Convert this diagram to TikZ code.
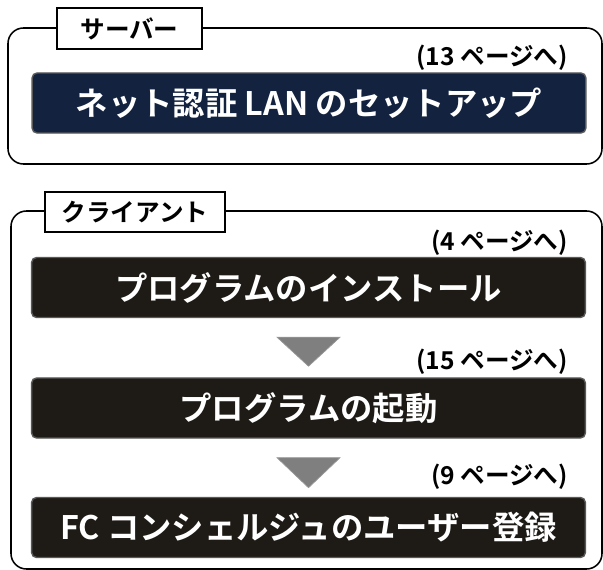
\documentclass[tikz,border=0pt]{standalone}
\usepackage{fontspec}
\setmainfont{Noto Sans CJK JP}[BoldFont={Noto Sans CJK JP Bold}]
\usetikzlibrary{positioning}
\definecolor{navy}{HTML}{13233F}
\definecolor{ink}{HTML}{1E1A15}
\definecolor{arrowgray}{HTML}{7F7F7F}
\tikzset{
	frame/.style={line width=1.1pt, rounded corners=11pt},
	tag/.style={draw, line width=1.1pt, fill=white, inner sep=0pt,
		font=\bfseries\fontsize{17.5}{17.5}\selectfont},
	title/.style={draw=black!65, line width=1pt, rounded corners=3.5pt, text=white,
		inner sep=0pt, minimum width=13.84cm, minimum height=1.5cm,
		font=\bfseries\fontsize{23}{23}\selectfont},
	page/.style={anchor=east, inner sep=0pt, font=\bfseries\fontsize{17.5}{17.5}\selectfont},
	down/.style={fill=arrowgray, draw=black!40, line width=0.5pt}
	}

\begin{document}
\begin{tikzpicture}[x=0.025cm, y=-0.025cm]

	\useasboundingbox (0,0) rectangle (603,570);

	% server frame
	\draw[frame] (8,28) rectangle (602,164);
	\node[tag, minimum width=3.625cm, minimum height=1.025cm] (server) at (129.5,28.5) {サーバー};
	\node[title, fill=navy] (lan) at (309,103) {ネット認証 LAN のセットアップ};
	\node[page] (p13) at (568,58) {(13 ページへ)};

	% client frame
	\draw[frame] (11,211) rectangle (602,569);
	\node[tag, minimum width=4.5cm, minimum height=1cm] (client) at (135,212) {クライアント};
	\node[title, fill=ink] (install) at (308.5,287.5) {プログラムのインストール};
	\node[title, fill=ink] (start) at (308.5,408) {プログラムの起動};
	\node[title, fill=ink] (regist) at (308.5,527.5) {FC コンシェルジュのユーザー登録};
	\node[page] (p4) at (568,243) {(4 ページへ)};
	\node[page] (p15) at (568,362) {(15 ページへ)};
	\node[page] (p9) at (568,477) {(9 ページへ)};

	% arrows between steps
	\coordinate (t1) at (install.south -| start.north);
	\draw[down] (t1) ++(-31.5,19) -- ++(63,0) -- ++(-31.5,29) -- cycle;
	\coordinate (t2) at (start.south);
	\draw[down] (t2) ++(-31.5,19) -- ++(63,0) -- ++(-31.5,30) -- cycle;

\end{tikzpicture}
\end{document}
